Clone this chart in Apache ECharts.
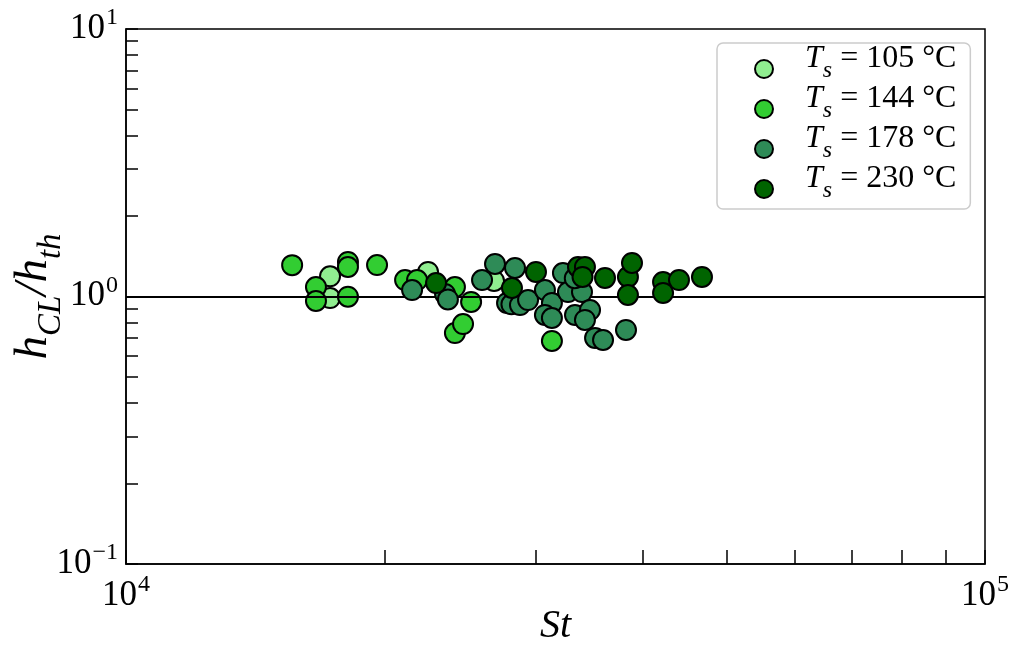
<!DOCTYPE html>
<html>
<head>
<meta charset="utf-8">
<script src="https://cdn.jsdelivr.net/npm/echarts@6/dist/echarts.min.js"></script>
<style>
  html, body { margin: 0; padding: 0; background: #fff; }
  #chart { width: 1009px; height: 651px; }
</style>
</head>
<body>
<div id="chart"></div>
<script>
// St and h_CL/h_th for each surface temperature
const st105 = [17280, 17280, 22470, 26820];
const h105 = [1.19, 0.987, 1.235, 1.143];

const st144 = [15610, 16640, 16640, 18130, 18130, 18130, 19600, 21130, 21820, 24150, 25220, 24150, 24680, 31320];
const h144 = [1.31, 1.085, 0.962, 1.346, 1.289, 0.998, 1.311, 1.152, 1.152, 1.085, 0.954, 0.73, 0.789, 0.682];

const st178 = [21530, 23520, 23700, 25970, 26890, 28370, 27770, 28100, 28750, 29380, 30740, 31320, 30740, 31320, 32260, 32700, 33950, 33320, 34690, 34220, 35160, 35920, 38200, 33300];
const h178 = [1.057, 1.022, 0.975, 1.152, 1.323, 1.278, 0.946, 0.935, 0.929, 0.97, 1.057, 0.946, 0.853, 0.831, 1.224, 1.039, 1.039, 0.853, 0.89, 0.817, 0.70, 0.688, 0.75, 1.17];

const st230 = [22960, 28140, 30010, 33590, 34220, 34000, 36110, 38400, 38820, 38400, 42190, 42190, 44030, 46830];
const h230 = [1.123, 1.076, 1.235, 1.289, 1.289, 1.183, 1.173, 1.183, 1.335, 1.013, 1.133, 1.031, 1.152, 1.183];

const names = ['105', '144', '178', '230'];
const colors = ['#90ee90', '#32cd32', '#2e8b57', '#006400'];

const xTicks = [10000, 20000, 30000, 40000, 50000, 60000, 70000, 80000, 90000, 100000];
const xLabels = [10000, 100000];
const yTicks = [0.1, 0.2, 0.3, 0.4, 0.5, 0.6, 0.7, 0.8, 0.9, 1, 2, 3, 4, 5, 6, 7, 8, 9, 10];
const yLabels = [0.1, 1, 10];

const serif = 'Liberation Serif';

function zip(xs, ys) {
  return xs.map((x, i) => [x, ys[i]]);
}

function powLabel(v) {
  let e = Math.round(Math.log10(v));
  let s = e < 0 ? '\u2212' + (-e) : '' + e;
  return '{b|10}{e|' + s + '}';
}

const tickRich = {
  b: { fontFamily: serif, fontSize: 35, color: '#000', verticalAlign: 'bottom', lineHeight: 34 },
  e: { fontFamily: serif, fontSize: 24, color: '#000', verticalAlign: 'bottom', lineHeight: 22, padding: [0, 0, 16, 1] }
};

const allData = [zip(st105, h105), zip(st144, h144), zip(st178, h178), zip(st230, h230)];

let series = allData.map((d, i) => ({
  name: names[i],
  type: 'scatter',
  data: d,
  symbol: 'circle',
  symbolSize: 20,
  z: 3 + i,
  itemStyle: { color: colors[i], borderColor: '#000', borderWidth: 2, opacity: 1 }
}));

// reference line at h_CL/h_th = 1
series[0].markLine = {
  silent: true,
  symbol: 'none',
  label: { show: false },
  lineStyle: { color: '#000', width: 2, type: 'solid' },
  data: [{ yAxis: 1 }]
};

let myChart = echarts.init(document.getElementById('chart'));
myChart.setOption({
  animation: false,
  grid: {
    left: 126, right: 24, top: 29, bottom: 87,
    containLabel: false,
    outerBoundsMode: 'none',
    show: true, borderColor: '#000', borderWidth: 1.5
  },
  legend: {
    orient: 'vertical',
    left: 717,
    top: 43,
    padding: [0, 14, 6, 37],
    itemGap: 0,
    itemWidth: 18,
    itemHeight: 18,
    icon: 'circle',
    backgroundColor: '#fff',
    borderColor: '#cccccc',
    borderWidth: 1.5,
    borderRadius: 6,
    data: names,
    formatter: function (name) {
      return '{t|T}{s|s}{n| = ' + name + ' \u00b0C}';
    },
    textStyle: {
      rich: {
        t: { fontFamily: serif, fontStyle: 'italic', fontSize: 32, lineHeight: 28, color: '#000', verticalAlign: 'bottom', padding: [0, 0, 8, 27] },
        s: { fontFamily: serif, fontStyle: 'italic', fontSize: 24, lineHeight: 22, color: '#000', verticalAlign: 'bottom' },
        n: { fontFamily: serif, fontSize: 32, lineHeight: 28, color: '#000', verticalAlign: 'bottom', padding: [0, 0, 8, 0] }
      }
    }
  },
  xAxis: {
    type: 'log',
    logBase: 10,
    min: 10000,
    max: 100000,
    name: 'St',
    nameLocation: 'middle',
    nameGap: 42,
    nameMoveOverlap: false,
    nameTextStyle: { fontFamily: serif, fontStyle: 'italic', fontSize: 40, color: '#000' },
    axisLine: { lineStyle: { color: '#000', width: 1.5 } },
    axisTick: { inside: true, length: 14, customValues: xTicks, lineStyle: { color: '#000', width: 1.5 } },
    axisLabel: { margin: 15, customValues: xLabels, formatter: powLabel, rich: tickRich },
    splitLine: { show: false }
  },
  yAxis: {
    type: 'log',
    logBase: 10,
    min: 0.1,
    max: 10,
    name: '{i|h}{sub|CL}{i|/h}{sub|th}',
    nameLocation: 'middle',
    nameGap: 58,
    nameMoveOverlap: false,
    nameTextStyle: {
      rich: {
        i: { fontFamily: serif, fontStyle: 'italic', fontSize: 47, color: '#000', verticalAlign: 'bottom', padding: [0, 0, 11, 0] },
        sub: { fontFamily: serif, fontStyle: 'italic', fontSize: 33, color: '#000', verticalAlign: 'bottom' }
      }
    },
    axisLine: { lineStyle: { color: '#000', width: 1.5 } },
    axisTick: { inside: true, length: 12, customValues: yTicks, lineStyle: { color: '#000', width: 1.5 } },
    axisLabel: { margin: 8, customValues: yLabels, formatter: powLabel, rich: tickRich },
    splitLine: { show: false }
  },
  series: series
});
</script>
</body>
</html>
